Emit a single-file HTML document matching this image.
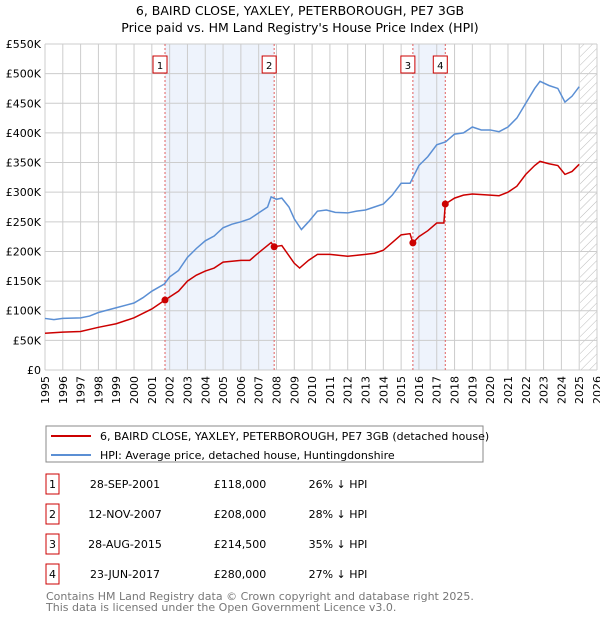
<!DOCTYPE html>
<html><head><meta charset="utf-8"><style>
body{margin:0;background:#fff;font-family:"Liberation Sans","DejaVu Sans",sans-serif;}
svg text{font-family:"DejaVu Sans","Liberation Sans",sans-serif;}
</style></head><body>
<svg width="600" height="620" xmlns="http://www.w3.org/2000/svg">
<defs><pattern id="hatch" width="6" height="6" patternUnits="userSpaceOnUse" patternTransform="rotate(45)"><line x1="0" y1="0" x2="0" y2="6" stroke="#bbb" stroke-width="1"/></pattern></defs>
<text x="300" y="15" text-anchor="middle" font-size="12.5">6, BAIRD CLOSE, YAXLEY, PETERBOROUGH, PE7 3GB</text>
<text x="300" y="32" text-anchor="middle" font-size="12.5">Price paid vs. HM Land Registry's House Price Index (HPI)</text>
<g id="plot"></g>
<rect x="46" y="426" width="437" height="36" fill="#fff" stroke="#888"/>
<line x1="51" y1="436" x2="91" y2="436" stroke="#cc0000" stroke-width="2"/>
<text x="100" y="440" font-size="11">6, BAIRD CLOSE, YAXLEY, PETERBOROUGH, PE7 3GB (detached house)</text>
<line x1="51" y1="455" x2="91" y2="455" stroke="#5b8fd4" stroke-width="2"/>
<text x="100" y="459" font-size="11">HPI: Average price, detached house, Huntingdonshire</text>
<g id="table" font-size="11"></g>
<text x="46" y="600" font-size="11" fill="#777">Contains HM Land Registry data © Crown copyright and database right 2025.</text>
<text x="46" y="611" font-size="11" fill="#777">This data is licensed under the Open Government Licence v3.0.</text>
</svg>
<script>
const hpiYears=[1995,1995.5,1996,1997,1997.5,1998,1999,2000,2000.5,2001,2001.7,2002,2002.5,2003,2003.5,2004,2004.5,2005,2005.5,2006,2006.5,2007,2007.5,2007.7,2008,2008.3,2008.7,2009,2009.4,2009.8,2010.3,2010.8,2011.3,2012,2012.5,2013,2013.5,2014,2014.5,2015,2015.5,2016,2016.5,2017,2017.5,2018,2018.5,2019,2019.5,2020,2020.5,2021,2021.5,2022,2022.5,2022.8,2023.3,2023.8,2024.2,2024.6,2025];
const hpiValues=[87,85,87,88,91,97,105,113,122,133,145,157,168,190,205,218,226,240,246,250,255,265,275,292,288,290,275,255,237,250,268,270,266,265,268,270,275,280,295,315,315,345,360,380,385,398,400,410,405,405,402,410,425,450,475,487,480,475,452,462,478];
const priceYears=[1995,1996,1997,1998,1999,2000,2001,2001.74,2002.5,2003,2003.5,2004,2004.5,2005,2006,2006.5,2007,2007.7,2007.87,2008.3,2009,2009.3,2009.8,2010.3,2011,2012,2013,2013.5,2014,2014.5,2015,2015.5,2015.66,2016,2016.5,2017,2017.4,2017.48,2018,2018.5,2019,2020,2020.5,2021,2021.5,2022,2022.5,2022.8,2023.3,2023.8,2024.2,2024.6,2025];
const priceValues=[62,64,65,72,78,88,103,118,133,150,160,167,172,182,185,185,198,215,208,210,180,172,185,195,195,192,195,197,202,215,228,230,214.5,225,235,248,248,280,290,295,297,295,294,300,310,330,345,352,348,345,330,335,347];
const saleYears=[2001.74,2007.87,2015.66,2017.48];
const salePrices=[118,208,214.5,280];
const saleDates=["28-SEP-2001","12-NOV-2007","28-AUG-2015","23-JUN-2017"];
const salePriceLabels=["£118,000","£208,000","£214,500","£280,000"];
const saleDiffs=["26% ↓ HPI","28% ↓ HPI","35% ↓ HPI","27% ↓ HPI"];
const yTicks=[0,50,100,150,200,250,300,350,400,450,500,550];
const yTickLabels=["£0","£50K","£100K","£150K","£200K","£250K","£300K","£350K","£400K","£450K","£500K","£550K"];
const xTicks=[];for(let y=1995;y<=2026;y++)xTicks.push(y);
const X0=45,X1=597,Y0=370,Y1=44;
const xs=y=>X0+(y-1995)*(X1-X0)/31;
const ys=v=>Y0-v*(Y0-Y1)/550;
const NS="http://www.w3.org/2000/svg";
const plot=document.getElementById('plot');
function mk(tag,attrs,parent){const e=document.createElementNS(NS,tag);for(const k in attrs)e.setAttribute(k,attrs[k]);(parent||plot).appendChild(e);return e;}
let e;
e=mk('rect',{x:X0,y:Y1,width:X1-X0,height:Y0-Y1,fill:'#fff'});


e=mk('rect',{x:xs(saleYears[0]),y:Y1,width:xs(saleYears[1])-xs(saleYears[0]),height:Y0-Y1,fill:'#eef3fc'});


e=mk('rect',{x:xs(saleYears[2]),y:Y1,width:xs(saleYears[3])-xs(saleYears[2]),height:Y0-Y1,fill:'#eef3fc'});


e=mk('rect',{x:xs(2025.05),y:Y1,width:X1-xs(2025.05),height:Y0-Y1,fill:'url(#hatch)'});


xTicks.forEach(t=>{
 e=mk('line',{x1:xs(t),x2:xs(t),y1:Y1,y2:Y0,stroke:'#ccc'});
 
 
 e=mk('text',{x:0,y:0,'font-size':11,'text-anchor':'end',transform:`translate(${xs(t)+4},${Y0+6}) rotate(-90)`});
 e.textContent=t;
 
 
});
yTicks.forEach((t,i)=>{
 e=mk('line',{x1:X0,x2:X1,y1:ys(t),y2:ys(t),stroke:'#ccc'});
 
 
 e=mk('text',{x:X0-4,y:ys(t)+4,'font-size':11,'text-anchor':'end'});
 e.textContent=yTickLabels[i];
 
 
});
saleYears.forEach((s,i)=>{
 e=mk('line',{x1:xs(s),x2:xs(s),y1:Y1,y2:Y0,stroke:'#e06060','stroke-dasharray':'2,2'});
 
 
 e=mk('rect',{x:xs(s)-12,y:56,width:14,height:17,fill:'#fff',stroke:'#cc0000'});
 
 
 e=mk('text',{x:xs(s)-5,y:69,'font-size':10,'text-anchor':'middle'});
 e.textContent=i+1;
 
 
});
e=mk('polyline',{points:hpiYears.map((y,i)=>xs(y)+','+ys(hpiValues[i])).join(' '),fill:'none',stroke:'#5b8fd4','stroke-width':1.5});


e=mk('polyline',{points:priceYears.map((y,i)=>xs(y)+','+ys(priceValues[i])).join(' '),fill:'none',stroke:'#cc0000','stroke-width':1.5});


saleYears.forEach((s,i)=>{
 e=mk('circle',{cx:xs(s),cy:ys(salePrices[i]),r:3.5,fill:'#cc0000'});
 
 
});
const tb=document.getElementById('table');
saleYears.forEach((s,i)=>{
 const y=483+i*30;
 e=mk('rect',{x:46,y:y-9,width:13,height:20,fill:'#fff',stroke:'#cc0000'},tb);
 
 
 e=mk('text',{x:52.5,y:y+5,'text-anchor':'middle'},tb);e.textContent=i+1;
 
 
 e=mk('text',{x:125,y:y+5,'text-anchor':'middle'},tb);e.textContent=saleDates[i];
 
 
 e=mk('text',{x:240,y:y+5,'text-anchor':'middle'},tb);e.textContent=salePriceLabels[i];
 
 
 e=mk('text',{x:338,y:y+5,'text-anchor':'middle'},tb);e.textContent=saleDiffs[i];
 
 
});
</script>
</body></html>
